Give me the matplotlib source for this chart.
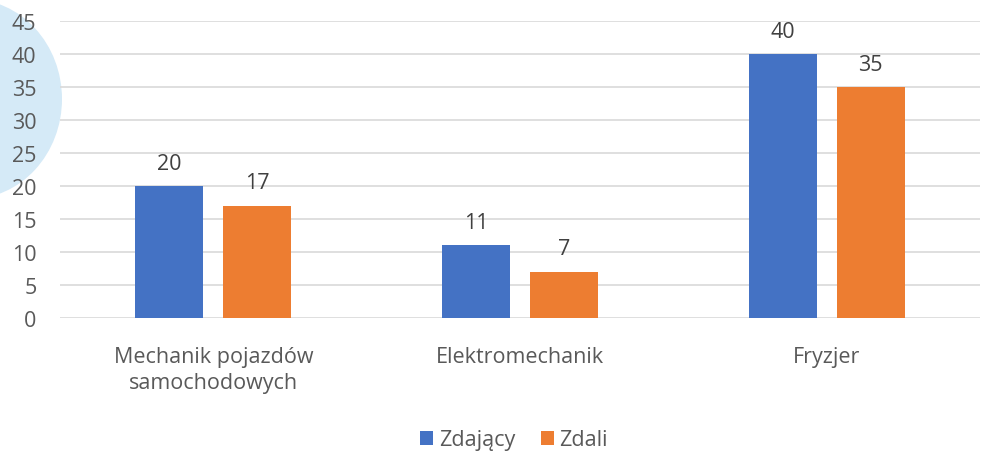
import matplotlib
matplotlib.use("Agg")
import matplotlib.pyplot as plt
import numpy as np
from matplotlib.patches import Ellipse

categories = ["Mechanik pojazdów\nsamochodowych", "Elektromechanik", "Fryzjer"]
zdajacy = [20, 11, 40]
zdali = [17, 7, 35]
series_names = ["Zdający", "Zdali"]
yticks = [0, 5, 10, 15, 20, 25, 30, 35, 40, 45]

plt.rcParams['font.family'] = ['Open Sans', 'DejaVu Sans']

W, H = 982, 452
fig = plt.figure(figsize=(W/100, H/100), dpi=100)

# decorative background shapes (figure pixel coords)
bg = fig.add_axes([0, 0, 1, 1])
bg.set_xlim(0, W); bg.set_ylim(H, 0); bg.axis('off')
bg.add_patch(Ellipse((-30, 100), 184, 200, color='#D5EAF7', lw=0))
bg.add_patch(Ellipse((205, -3), 24, 8, color='#D0DBF3', lw=0))

ax = fig.add_axes([60/W, 1-319/H, 920/W, 297/H])
ax.patch.set_alpha(0)
x = np.arange(len(categories))
bw = 0.222
off = (bw + 0.065) / 2
FS = 15.5
b1 = ax.bar(x - off, zdajacy, bw, color='#4472C4', label=series_names[0], zorder=3)
b2 = ax.bar(x + off, zdali, bw, color='#ED7D31', label=series_names[1], zorder=3)
for bars in (b1, b2):
    ax.bar_label(bars, padding=9, fontsize=FS, color='#404040')

ax.set_xlim(-0.5, 2.5)
ax.set_ylim(0, 45)
ax.set_yticks(yticks)
ax.set_xticks(x)
ax.set_xticklabels(categories, linespacing=1.32)
ax.tick_params(axis='both', length=0, labelsize=FS, labelcolor='#595959')
ax.tick_params(axis='y', pad=17)
ax.tick_params(axis='x', pad=20)
ax.grid(axis='y', color='#D9D9D9', lw=1.2, zorder=0)
for s in ax.spines.values():
    s.set_visible(False)

fig.legend(handles=[b1, b2], labels=series_names, loc='center', bbox_to_anchor=(514/W, 1-441/H),
           ncol=2, frameon=False, fontsize=FS, handlelength=0.6, handleheight=0.6,
           handletextpad=0.25, columnspacing=1.2, labelcolor='#595959')

fig.savefig('out.png', dpi=100)
